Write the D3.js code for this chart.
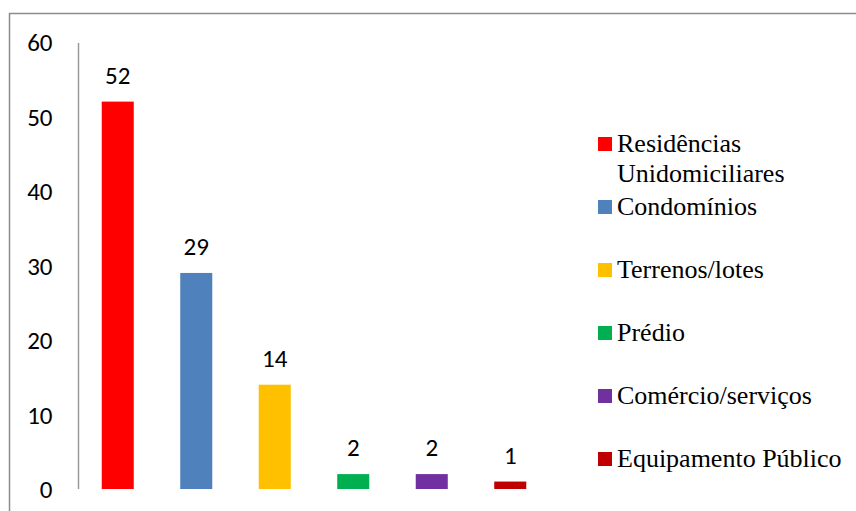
<!DOCTYPE html>
<html><head><meta charset="utf-8">
<script src="https://cdn.jsdelivr.net/npm/d3@7"></script>
</head><body><svg id="c" width="856" height="511"></svg>
<script>
const categories = ["Residências Unidomiciliares","Condomínios","Terrenos/lotes","Prédio","Comércio/serviços","Equipamento Público"];
const values = [52, 29, 14, 2, 2, 1];
const colors = ["#FF0000","#4F81BD","#FFC000","#00B050","#7030A0","#C00000"];
const yTicks = [0,10,20,30,40,50,60];
const legendLines = [["Residências","Unidomiciliares"],["Condomínios"],["Terrenos/lotes"],["Prédio"],["Comércio/serviços"],["Equipamento Público"]];

d3.select("body").style("margin","0");
d3.select("#c").style("display","block");

const svg = d3.select("#c");
svg.append("path").attr("d","M9.5,511 L9.5,13.5 L856,13.5").attr("fill","none").attr("stroke","#8c8c8c").attr("stroke-width",1.5);

const x = d3.scaleBand().domain(categories).range([78.5, 549.5]).paddingInner(0.592).paddingOuter(0.296);
const y = d3.scaleLinear().domain([0,60]).range([489, 42]);

const yAxis = d3.axisLeft(y).tickValues(yTicks).tickSize(0).tickPadding(26);
const ga = svg.append("g").attr("transform","translate(78.5,0)").call(yAxis);
ga.attr("font-family","Carlito").attr("font-size",25);
ga.select(".domain").attr("stroke","#9a9a9a").attr("stroke-width",1.5).attr("d","M0,43V489");
ga.selectAll("text").style("font-family",'"Carlito"').style("font-size","25px").attr("fill","#000").attr("dy","0.35em");

svg.selectAll("rect.bar").data(values).join("rect").attr("class","bar")
  .attr("x",(d,i)=>x(categories[i])).attr("width",x.bandwidth())
  .attr("y",d=>y(d)).attr("height",d=>y(0)-y(d)).attr("fill",(d,i)=>colors[i]);

values.forEach((v,i)=>{
  svg.append("text").attr("x",x(categories[i])+x.bandwidth()/2).attr("y",y(v)-18)
    .attr("text-anchor","middle").style("font-family",'"Carlito"').style("font-size","25px").text(v);
});

const legY = [144,207,270,333,396,459];
legendLines.forEach((lines,i)=>{
  svg.append("rect").attr("x",598).attr("y",legY[i]-7).attr("width",14).attr("height",14).attr("fill",colors[i]);
  lines.forEach((l,j)=>{
    svg.append("text").attr("x",617).attr("y",legY[i]+8+j*30)
      .attr("font-family","Liberation Serif")
      .style("font-family",'"Liberation Serif"').style("font-size","26px").text(l);
  });
});
</script></body></html>
